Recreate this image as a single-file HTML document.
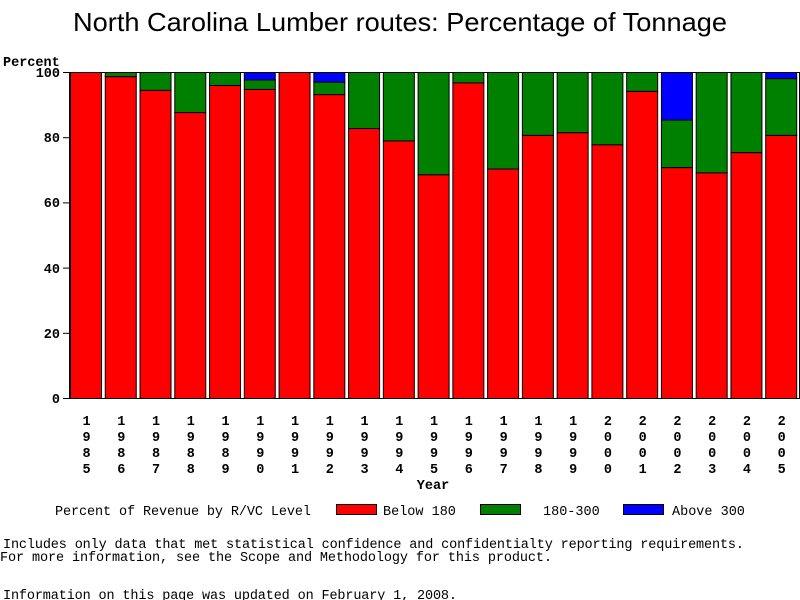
<!DOCTYPE html>
<html><head><meta charset="utf-8"><style>body{margin:0;background:#fff}svg{display:block}</style></head><body>
<svg width="800" height="600" xmlns="http://www.w3.org/2000/svg" font-family="Liberation Mono, monospace" font-size="13.5">
<text x="73" y="31" textLength="654" lengthAdjust="spacingAndGlyphs" font-family="Liberation Sans, sans-serif" font-size="26">North Carolina Lumber routes: Percentage of Tonnage</text>
<text x="3" y="66" font-weight="bold">Percent</text>
<g id="bars"></g>
<rect x="69.5" y="72.5" width="730" height="326" fill="none" stroke="#000"/>
<g stroke="#000">
<line x1="63" y1="72.5" x2="69" y2="72.5"/><line x1="63" y1="137.7" x2="69" y2="137.7"/><line x1="63" y1="202.9" x2="69" y2="202.9"/><line x1="63" y1="268.1" x2="69" y2="268.1"/><line x1="63" y1="333.3" x2="69" y2="333.3"/><line x1="63" y1="398.5" x2="69" y2="398.5"/>
</g>
<g text-anchor="end" font-weight="bold">
<text x="60" y="77">100</text><text x="60" y="142">80</text><text x="60" y="207">60</text><text x="60" y="273">40</text><text x="60" y="338">20</text><text x="60" y="403">0</text>
</g>
<g id="years" text-anchor="middle" font-weight="bold"></g>
<text x="433" y="489" text-anchor="middle" font-weight="bold">Year</text>
<text x="55" y="515" textLength="256">Percent of Revenue by R/VC Level</text>
<rect x="336.5" y="504.5" width="40" height="10" fill="#f00" stroke="#000"/><text x="383" y="515">Below 180</text>
<rect x="480.5" y="504.5" width="40" height="10" fill="#008000" stroke="#000"/><text x="543" y="515">180-300</text>
<rect x="623.5" y="504.5" width="40" height="10" fill="#00f" stroke="#000"/><text x="672" y="515">Above 300</text>
<text x="3" y="548" textLength="741">Includes only data that met statistical confidence and confidentialty reporting requirements.</text>
<text x="0" y="561" textLength="552">For more information, see the Scope and Methodology for this product.</text>
<text x="3" y="599" textLength="454">Information on this page was updated on February 1, 2008.</text>
</svg>
<script>
var d=[[100,100],[98.7,100],[94.5,100],[87.7,100],[96,100],[94.8,97.7],[100,100],[93.2,97],[82.8,100],[79,100],[68.6,100],[96.8,100],[70.4,100],[80.7,100],[81.5,100],[77.8,100],[94.2,100],[70.8,85.4],[69.2,100],[75.4,100],[80.7,98.1]];
var ns="http://www.w3.org/2000/svg",b=document.getElementById('bars'),yg=document.getElementById('years');
function y(v){return 398.5-v*3.26}
function r(x,y1,y2,c){var e=document.createElementNS(ns,'rect');e.setAttribute('x',x);e.setAttribute('y',y1);e.setAttribute('width',31);e.setAttribute('height',Math.max(0,y2-y1));e.setAttribute('fill',c);e.setAttribute('stroke','#000');b.appendChild(e);}
d.forEach(function(p,i){var x=70.5+i*34.76;
if(p[1]<100)r(x,y(100),y(p[1]),'#00f');
if(p[1]>p[0])r(x,y(p[1]),y(p[0]),'#008000');
r(x,y(p[0]),y(0),'#f00');
var yr=String(1985+i);for(var k=0;k<4;k++){var t=document.createElementNS(ns,'text');t.setAttribute('x',x+16);t.setAttribute('y',425+k*16);t.textContent=yr[k];yg.appendChild(t);}
});
</script>
</body></html>
